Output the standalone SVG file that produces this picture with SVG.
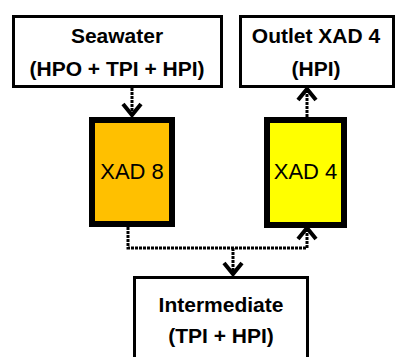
<svg xmlns="http://www.w3.org/2000/svg" width="396" height="357" viewBox="0 0 396 357">
<style>
.box{fill:#fff;stroke:#000;stroke-width:3}
.col{stroke:#000;stroke-width:6}
.t{font-family:"Liberation Sans",Arial,sans-serif;font-weight:bold;font-size:21px;text-anchor:middle;fill:#000}
.r{font-family:"Liberation Sans",Arial,sans-serif;font-size:22px;text-anchor:middle;fill:#000}
.c{fill:none;stroke:#000;stroke-width:3;stroke-dasharray:3 1}
</style>
<defs>
<marker id="ah" markerUnits="userSpaceOnUse" markerWidth="22" markerHeight="22" refX="13" refY="11" orient="auto" viewBox="0 0 22 22">
<path d="M2,2 L13,11 L2,20" fill="none" stroke="#000" stroke-width="4"/>
</marker>
</defs>
<rect width="396" height="357" fill="#fff"/>
<g id="seawater">
<rect class="box" x="13.5" y="16.5" width="208" height="70"/>
<text class="t" x="117" y="43">Seawater</text>
<text class="t" x="117" y="76">(HPO + TPI + HPI)</text>
</g>
<g id="outlet">
<rect class="box" x="240.5" y="16.5" width="153" height="70"/>
<text class="t" x="316" y="43">Outlet XAD 4</text>
<text class="t" x="316" y="76">(HPI)</text>
</g>
<g id="xad8">
<rect class="col" x="92" y="120" width="80" height="104" fill="#FFC000"/>
<text class="r" x="132" y="179">XAD 8</text>
</g>
<g id="xad4">
<rect class="col" x="267" y="120" width="77" height="105" fill="#FFFF00"/>
<text class="r" x="305.5" y="179">XAD 4</text>
</g>
<g id="intermediate">
<rect class="box" x="134.5" y="277.5" width="173" height="90"/>
<text class="t" x="221" y="312">Intermediate</text>
<text class="t" x="221" y="343">(TPI + HPI)</text>
</g>
<g id="connectors">
<path class="c" d="M132,88 V115" marker-end="url(#ah)"/>
<path class="c" d="M307,117 V89" marker-end="url(#ah)"/>
<path class="c" d="M128,227 V248 H307 V228" marker-end="url(#ah)"/>
<path class="c" d="M233,248 V274" marker-end="url(#ah)"/>
</g>
</svg>
